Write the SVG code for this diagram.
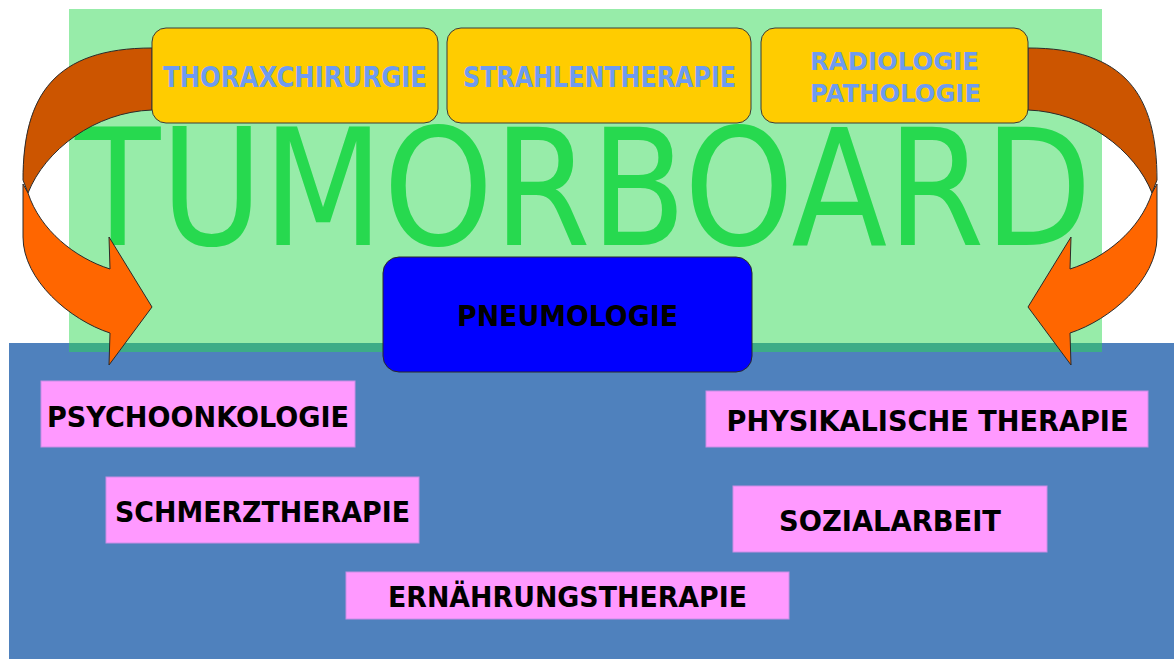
<svg xmlns="http://www.w3.org/2000/svg" width="1174" height="659" viewBox="0 0 1174 659">
<style>
.yb{fill:#FFCC00;stroke:#3a3a3a;stroke-width:1}
.pk{fill:#FF99FF;stroke:#c98ee6;stroke-width:1}
.yt{font-family:"DejaVu Sans","Liberation Sans",sans-serif;font-weight:bold;font-size:28px;fill:#6E9BF0;text-anchor:middle}
.yt2{font-family:"DejaVu Sans","Liberation Sans",sans-serif;font-weight:bold;font-size:25px;fill:#6E9BF0;text-anchor:middle}
.bt{font-family:"DejaVu Sans","Liberation Sans",sans-serif;font-weight:bold;font-size:29px;fill:#000;text-anchor:middle}
.dark{fill:#CC5500;stroke:#2a2a2a;stroke-width:1}
.lite{fill:#FF6600;stroke:#2a2a2a;stroke-width:1}
</style>
<defs>
<g id="curvedArrow">
<path class="dark" d="M152,48 C55,48 23,95 23,180 L28,193 C45,150 95,112 152,110 Z"/>
<path class="lite" d="M23,184 L23,237 C23,280 70,320 110,333 L109,365 L152,307 L109,237 L110,269 C75,258 40,230 28,193 Z"/>
</g>
</defs>
<rect id="bg-blue" x="9" y="343" width="1165" height="316" fill="#4F81BD"/>
<rect id="bg-green" x="69" y="9" width="1033" height="343" fill="#2AD94F" fill-opacity="0.49"/>
<text id="tumorboard" transform="translate(75,245) scale(1,1.165)" x="0" y="0" font-family="DejaVu Sans, Liberation Sans, sans-serif" font-size="139" fill="#27D94F" textLength="1017" lengthAdjust="spacingAndGlyphs">TUMORBOARD</text>
<g id="connectors">
<use href="#curvedArrow"/>
<use href="#curvedArrow" transform="translate(1180,0) scale(-1,1)"/>
</g>
<g id="thoraxchirurgie">
<rect class="yb" x="152" y="28" width="286" height="95" rx="14"/>
<text class="yt" x="295" y="87" textLength="264" lengthAdjust="spacingAndGlyphs">THORAXCHIRURGIE</text>
</g>
<g id="strahlentherapie">
<rect class="yb" x="447" y="28" width="304" height="95" rx="14"/>
<text class="yt" x="599.5" y="87" textLength="273" lengthAdjust="spacingAndGlyphs">STRAHLENTHERAPIE</text>
</g>
<g id="radiologie-pathologie">
<rect class="yb" x="761" y="28" width="267" height="95" rx="14"/>
<text class="yt2" x="894.5" y="70" textLength="169" lengthAdjust="spacingAndGlyphs">RADIOLOGIE</text>
<text class="yt2" x="895.5" y="102" textLength="171" lengthAdjust="spacingAndGlyphs">PATHOLOGIE</text>
</g>
<g id="pneumologie">
<rect x="383" y="257" width="369" height="115" rx="16" fill="#0000FF" stroke="#2a2a2a" stroke-width="1"/>
<text class="bt" x="567.5" y="326" textLength="221" lengthAdjust="spacingAndGlyphs">PNEUMOLOGIE</text>
</g>
<g id="psychoonkologie">
<rect class="pk" x="41" y="381" width="314" height="66"/>
<text class="bt" x="198" y="427" textLength="302" lengthAdjust="spacingAndGlyphs">PSYCHOONKOLOGIE</text>
</g>
<g id="schmerztherapie">
<rect class="pk" x="106" y="477" width="313" height="66"/>
<text class="bt" x="262.5" y="522" textLength="295" lengthAdjust="spacingAndGlyphs">SCHMERZTHERAPIE</text>
</g>
<g id="ernaehrungstherapie">
<rect class="pk" x="346" y="572" width="443" height="47"/>
<text class="bt" x="567.5" y="607" textLength="359" lengthAdjust="spacingAndGlyphs">ERNÄHRUNGSTHERAPIE</text>
</g>
<g id="physikalische-therapie">
<rect class="pk" x="706" y="391" width="442" height="56"/>
<text class="bt" x="927.5" y="431" textLength="402" lengthAdjust="spacingAndGlyphs">PHYSIKALISCHE THERAPIE</text>
</g>
<g id="sozialarbeit">
<rect class="pk" x="733" y="486" width="314" height="66"/>
<text class="bt" x="890" y="531" textLength="222" lengthAdjust="spacingAndGlyphs">SOZIALARBEIT</text>
</g>
</svg>
